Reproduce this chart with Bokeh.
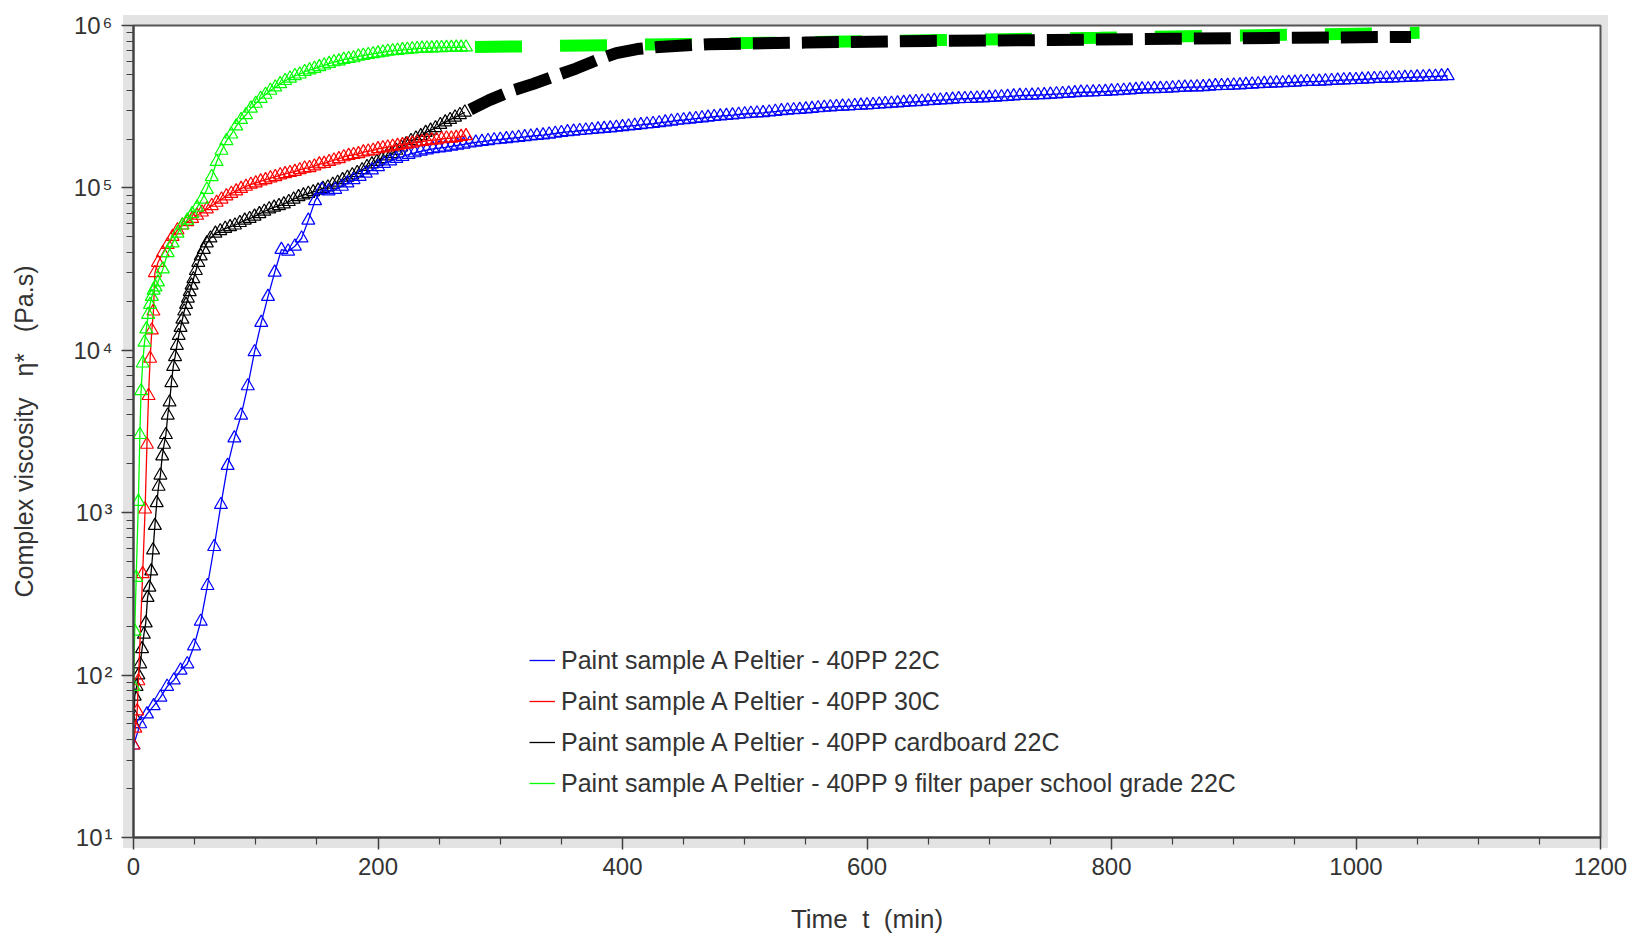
from bokeh.plotting import figure
from bokeh.models import (FixedTicker, CustomJSTickFormatter, Legend, LegendItem, Range1d)
from bokeh.embed import file_html
from bokeh.resources import INLINE

# ---------------- data ----------------
series_names = [
    "Paint sample A Peltier - 40PP 22C",
    "Paint sample A Peltier - 40PP 30C",
    "Paint sample A Peltier - 40PP cardboard 22C",
    "Paint sample A Peltier - 40PP 9 filter paper school grade 22C",
]
series_colors = ["#0000ff", "#ff0000", "#000000", "#00ff00"]

x_major_ticks = [0, 200, 400, 600, 800, 1000, 1200]
x_minor_ticks = [50, 100, 150, 250, 300, 350, 450, 500, 550, 650, 700, 750,
                 850, 900, 950, 1050, 1100, 1150]
y_major_ticks = [1e1, 1e2, 1e3, 1e4, 1e5, 1e6]
y_minor_ticks = [m * 10 ** e for e in range(1, 6) for m in range(2, 10)]

NB = "\u00a0"
x_title = "Time" + NB * 2 + "t" + NB * 2 + "(min)"
y_title = "Complex viscosity" + NB * 3 + "\u03b7*" + NB * 3 + "(Pa.s)"

# Paint sample A Peltier - 40PP 22C (blue): early part, eta in Pa.s
blue_t_early = [0, 5.5, 11, 16.5, 22, 27.5, 33, 38.5, 44, 49.5, 55, 60.5, 66, 71.5, 77,
                82.5, 88, 93.5, 99, 104.5, 110, 115.5, 121, 126.5, 132, 137.5, 143, 148.5,
                154, 159.5, 165, 170.5, 175]
blue_eta_early = [37, 50, 57.5, 64.6, 73, 85, 93, 107, 117, 151, 214, 355, 617, 1120, 1950,
                  2880, 3980, 6030, 9770, 14800, 21400, 30200, 41700, 40700, 43700, 49000, 63100, 83200,
                  97700, 95500, 97700, 102000, 107000]
# blue, late part: values read on the log axis (log10 of eta in Pa.s)
blue_t_late = [180, 185, 190, 195, 200, 205, 210, 215, 220, 225,
               230, 235, 240, 245, 250, 255, 260, 265, 270, 275,
               280, 285, 290, 295, 300, 305, 310, 315, 320, 325,
               330, 335, 340, 345, 350, 355, 360, 365, 370, 375,
               380, 385, 390, 395, 400, 405, 410, 415, 420, 425,
               430, 435, 440, 445, 450, 455, 460, 465, 470, 475,
               480, 485, 490, 495, 500, 505, 510, 515, 520, 525,
               530, 535, 540, 545, 550, 555, 560, 565, 570, 575,
               580, 585, 590, 595, 600, 605, 610, 615, 620, 625,
               630, 635, 640, 645, 650, 655, 660, 665, 670, 675,
               680, 685, 690, 695, 700, 705, 710, 715, 720, 725,
               730, 735, 740, 745, 750, 755, 760, 765, 770, 775,
               780, 785, 790, 795, 800, 805, 810, 815, 820, 825,
               830, 835, 840, 845, 850, 855, 860, 865, 870, 875,
               880, 885, 890, 895, 900, 905, 910, 915, 920, 925,
               930, 935, 940, 945, 950, 955, 960, 965, 970, 975,
               980, 985, 990, 995, 1000, 1005, 1010, 1015, 1020, 1025,
               1030, 1035, 1040, 1045, 1050, 1055, 1060, 1065, 1070, 1075]
blue_log_eta_late = [5.050, 5.070, 5.090, 5.110, 5.130, 5.150, 5.165, 5.180, 5.193, 5.205,
                     5.215, 5.225, 5.233, 5.240, 5.245, 5.250, 5.256, 5.262, 5.268, 5.275,
                     5.280, 5.285, 5.290, 5.295, 5.298, 5.302, 5.306, 5.310, 5.314, 5.318,
                     5.322, 5.325, 5.330, 5.335, 5.340, 5.345, 5.348, 5.352, 5.355, 5.358,
                     5.362, 5.365, 5.368, 5.372, 5.376, 5.380, 5.384, 5.388, 5.392, 5.395,
                     5.400, 5.405, 5.410, 5.415, 5.418, 5.422, 5.426, 5.430, 5.434, 5.438,
                     5.442, 5.445, 5.448, 5.452, 5.455, 5.458, 5.460, 5.462, 5.466, 5.470,
                     5.474, 5.478, 5.480, 5.482, 5.485, 5.488, 5.492, 5.495, 5.498, 5.500,
                     5.502, 5.503, 5.506, 5.508, 5.510, 5.512, 5.515, 5.518, 5.520, 5.522,
                     5.525, 5.528, 5.530, 5.532, 5.535, 5.538, 5.540, 5.542, 5.545, 5.548,
                     5.549, 5.550, 5.552, 5.553, 5.556, 5.558, 5.560, 5.562, 5.565, 5.568,
                     5.569, 5.570, 5.572, 5.573, 5.576, 5.578, 5.580, 5.582, 5.585, 5.588,
                     5.589, 5.590, 5.592, 5.593, 5.596, 5.598, 5.600, 5.602, 5.605, 5.608,
                     5.609, 5.610, 5.611, 5.612, 5.615, 5.618, 5.619, 5.620, 5.621, 5.622,
                     5.625, 5.628, 5.629, 5.630, 5.632, 5.633, 5.636, 5.638, 5.640, 5.642,
                     5.644, 5.645, 5.646, 5.648, 5.650, 5.652, 5.654, 5.655, 5.656, 5.658,
                     5.660, 5.662, 5.664, 5.665, 5.666, 5.668, 5.670, 5.672, 5.674, 5.675,
                     5.676, 5.677, 5.679, 5.680, 5.682, 5.683, 5.685, 5.686, 5.688, 5.690]

# Paint sample A Peltier - 40PP 30C (red)
red_t = [0, 1.5, 3, 4, 7.5, 9.5, 11, 12.3, 13.6, 15, 16.3, 17.5,
         20, 24, 28, 32, 36, 40, 44, 48, 52, 56,
         60, 64, 68, 72, 76, 80, 84, 88, 92, 96,
         100, 104, 108, 112, 116, 120, 124, 128, 132, 136,
         140, 144, 148, 152, 156, 160, 164, 168, 172, 176,
         180, 184, 188, 192, 196, 200, 204, 208, 212, 216,
         220, 224, 228, 232, 236, 240, 244, 248, 252, 256,
         260, 264, 268, 272]
red_eta = [37, 47, 60, 92, 420, 1050, 2630, 5250, 8900, 13300, 17400, 30000,
           34700, 39800, 44700, 50100, 55000, 58900, 61700, 64600, 67600, 70800,
           74100, 77600, 81300, 85100, 89100, 92300, 95500, 98900, 102000, 105000,
           107000, 110000, 112000, 115000, 117000, 120000, 122000, 124000, 126000, 129000,
           132000, 133000, 136000, 140000, 141000, 145000, 148000, 151000, 155000, 158000,
           160000, 162000, 166000, 168000, 170000, 174000, 176000, 178000, 180000, 182000,
           184000, 186000, 188000, 191000, 193000, 195000, 197000, 197000, 200000, 202000,
           202000, 204000, 207000, 209000]

# Paint sample A Peltier - 40PP cardboard 22C (black)
black_t = [0, 0.5, 1, 2.5, 4, 5.5, 7, 8.5, 10, 11.5, 13, 14.5, 16, 17.5, 19,
           20.5, 22, 23.5, 25, 26.5, 28, 29.5, 31, 32.5, 34, 35.5, 37, 38.5, 40, 41.5,
           43, 44.5, 46, 47.5, 49, 51, 53, 55, 57.5, 60, 63,
           67, 71, 75, 79, 83, 87, 91, 95, 99, 103,
           107, 111, 115, 119, 123, 127, 131, 135, 139, 143,
           147, 151, 155, 159, 163, 167, 171, 175, 179, 183,
           187, 191, 195, 199, 203, 207, 211, 215, 219, 223,
           227, 231, 235, 239, 243, 247, 251, 255, 259, 263,
           267, 271]
black_eta = [50, 56, 74, 85, 100, 117, 145, 178, 209, 300, 347, 437, 589, 832, 1150,
             1450, 1700, 2230, 2630, 3020, 3980, 4790, 6310, 7940, 9120, 10700, 12300, 13800, 15500, 17400,
             19100, 20900, 22900, 25100, 27500, 30900, 34700, 38000, 41700, 45700, 49000,
             52500, 54300, 56200, 57500, 58900, 61000, 63100, 64600, 66800, 69200,
             71600, 74100, 75900, 77600, 79400, 82200, 85100, 88100, 90200, 92300,
             94400, 96600, 98900, 101000, 105000, 108000, 112000, 116000, 120000, 124000,
             129000, 135000, 140000, 145000, 151000, 157000, 162000, 170000, 178000, 186000,
             195000, 202000, 209000, 219000, 226000, 234000, 245000, 254000, 263000, 272000,
             282000, 292000]

# Paint sample A Peltier - 40PP 9 filter paper school grade 22C (green)
green_t = [0, 1.0, 2.2, 4.0, 5.2, 6.2, 7.5, 9.0, 10.5, 12.0, 13.5, 15.0, 16.5, 18.0,
           20, 24, 28, 32, 36, 40, 44, 48, 52, 56,
           60, 64, 68, 72, 76, 80, 84, 88, 92, 96,
           100, 104, 108, 112, 116, 120, 124, 128, 132, 136,
           140, 144, 148, 152, 156, 160, 164, 168, 172, 176,
           180, 184, 188, 192, 196, 200, 204, 208, 212, 216,
           220, 224, 228, 232, 236, 240, 244, 248, 252, 256,
           260, 264, 268, 272]
green_eta = [85, 186, 398, 1170, 3020, 5620, 8320, 11200, 13500, 16600, 19100, 21400, 23400, 24500,
             26300, 31600, 39800, 45700, 52500, 58900, 63100, 69200, 75900, 85100,
             97700, 117000, 145000, 170000, 195000, 214000, 240000, 263000, 282000, 309000,
             331000, 355000, 376000, 398000, 417000, 437000, 457000, 473000, 490000, 501000,
             519000, 531000, 543000, 556000, 569000, 582000, 596000, 603000, 617000, 624000,
             631000, 646000, 653000, 661000, 668000, 676000, 684000, 692000, 697000, 701000,
             708000, 711000, 716000, 719000, 723000, 724000, 726000, 728000, 729000, 731000,
             731000, 733000, 733000, 735000]

# thick dashed continuations
black_dash_t = [271, 291, 310, 327, 345, 362, 380, 395, 412, 430, 470, 550, 650, 750, 850, 950, 1045]
black_dash_eta = [2.92e5, 3.47e5, 3.98e5, 4.37e5, 4.90e5, 5.43e5, 6.17e5, 6.76e5, 7.16e5,
                  7.38e5, 7.67e5, 7.85e5, 8.04e5, 8.13e5, 8.28e5, 8.41e5, 8.51e5]
green_dash_t = [272, 400, 530, 660, 790, 920, 1052]
green_dash_eta = [7.35e5, 7.59e5, 7.85e5, 8.13e5, 8.41e5, 8.71e5, 9.02e5]

blue_t = blue_t_early + blue_t_late
blue_eta = blue_eta_early + [10 ** v for v in blue_log_eta_late]

for a, b in [(blue_t_early, blue_eta_early), (blue_t_late, blue_log_eta_late),
             (red_t, red_eta), (black_t, black_eta), (green_t, green_eta),
             (black_dash_t, black_dash_eta), (green_dash_t, green_dash_eta)]:
    assert len(a) == len(b), (len(a), len(b))

# ---------------- figure ----------------
W, H = 1630, 936
FL, FT, FR, FB = 133, 25, 1600, 838   # frame edges in page px
FONT = "Liberation Sans"
TXT = "#333333"
AX = "#404040"

p = figure(width=W, height=H, y_axis_type="log",
           x_range=Range1d(0, 1200), y_range=Range1d(10, 1e6),
           output_backend="svg", toolbar_location=None,
           min_border_left=FL, min_border_right=W - FR,
           min_border_top=FT, min_border_bottom=H - FB)
p.grid.visible = False
p.background_fill_color = "white"
# transparent border so that a light grey band (CSS background) shows around the frame
p.border_fill_alpha = 0
p.styles = {"background": "linear-gradient(#e3e3e3, #e3e3e3) 123px 15px / 1485px 833px no-repeat, #ffffff"}
p.outline_line_color = "#555555"
p.outline_line_width = 2

p.xaxis.ticker = FixedTicker(ticks=x_major_ticks, minor_ticks=x_minor_ticks)
p.yaxis.ticker = FixedTicker(ticks=y_major_ticks, minor_ticks=y_minor_ticks)
p.yaxis.formatter = CustomJSTickFormatter(code=r"""
const e = Math.round(Math.log10(tick));
const sup = ["\u2070","\u00b9","\u00b2","\u00b3","\u2074","\u2075","\u2076","\u2077","\u2078","\u2079"];
return "10\u200a" + sup[e];
""")
for ax in (p.xaxis[0], p.yaxis[0]):
    ax.axis_line_color = AX
    ax.axis_line_width = 2
    ax.major_tick_line_color = AX
    ax.minor_tick_line_color = AX
    ax.major_tick_line_width = 1.5
    ax.minor_tick_line_width = 1.2
    ax.major_tick_in = 0
    ax.major_tick_out = 12
    ax.minor_tick_in = 0
    ax.minor_tick_out = 7
    ax.major_label_text_font = FONT
    ax.major_label_text_font_size = "24px"
    ax.major_label_text_color = TXT
    ax.axis_label_text_font = FONT
    ax.axis_label_text_font_style = "normal"
    ax.axis_label_text_color = TXT
p.xaxis.major_label_standoff = 8
p.yaxis.major_label_standoff = 9
p.xaxis.axis_label = x_title
p.xaxis.axis_label_text_font_size = "26px"
p.xaxis.axis_label_standoff = 26
p.yaxis.axis_label = y_title
p.yaxis.axis_label_text_font_size = "25px"
p.yaxis.axis_label_standoff = 32

# ---------------- series ----------------
line_r = {}
order = [(black_t, black_eta, 2), (blue_t, blue_eta, 0),
         (red_t, red_eta, 1), (green_t, green_eta, 3)]
for tt, ee, idx in order:
    c = series_colors[idx]
    line_r[idx] = p.line(tt, ee, line_color=c, line_width=1.3)
    p.scatter(tt, ee, marker="triangle", size=13, fill_color=None, line_color=c, line_width=1.2)

p.line(green_dash_t, green_dash_eta, line_color="#00ff00", line_width=12,
       line_dash="47 38", line_dash_offset=76)
p.line(black_dash_t, black_dash_eta, line_color="#000000", line_width=12,
       line_dash="37 12", line_dash_offset=43)

legend = Legend(items=[LegendItem(label=series_names[i], renderers=[line_r[i]]) for i in range(4)],
                location=(396, 39), orientation="vertical",
                label_text_font=FONT, label_text_font_size="25px", label_text_color=TXT,
                glyph_width=26, glyph_height=30, label_height=30, label_standoff=6,
                spacing=11, padding=0, margin=0,
                border_line_color=None, background_fill_alpha=0)
p.add_layout(legend, "center")

open("out.html", "w", encoding="utf-8").write(file_html(p, INLINE))
